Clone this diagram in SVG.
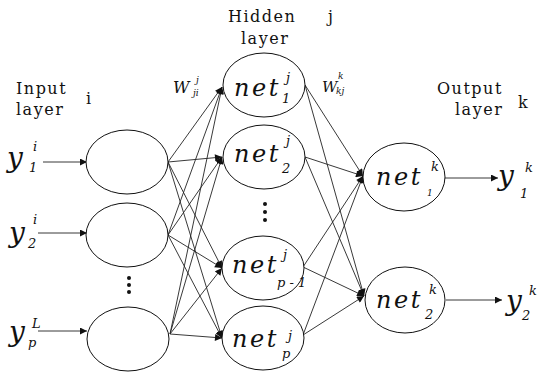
<svg xmlns="http://www.w3.org/2000/svg" width="539" height="374" viewBox="0 0 539 374" font-family="DejaVu Serif, serif">
<defs>
<style>
.node{fill:#fff;stroke:#111;stroke-width:1}
.c{stroke:#222;stroke-width:0.9;fill:none;marker-end:url(#ah)}
.lbl{font-size:16px;letter-spacing:1.5px;fill:#111}
.it{font-style:italic;fill:#111}
.net{font-size:24px;letter-spacing:2.5px}
.sup{font-size:13px}
.sm{font-size:9px}
.yv{font-size:28px}
.dot{fill:#111}
</style>
<marker id="ah" viewBox="0 0 10 10" refX="10" refY="5" markerWidth="9" markerHeight="7" markerUnits="userSpaceOnUse" orient="auto">
<path d="M0,0 L10,5 L0,10 z" fill="#111"/>
</marker>
</defs>
<rect width="539" height="374" fill="#fff"/>

<g id="labels">
<text class="lbl" x="16" y="94">Input</text>
<text class="lbl" x="16" y="115">layer</text>
<text class="lbl" x="86" y="104">i</text>
<text class="lbl" x="228" y="22">Hidden</text>
<text class="lbl" x="241" y="44">layer</text>
<text class="lbl" x="328" y="22">j</text>
<text class="lbl" x="437" y="94">Output</text>
<text class="lbl" x="455" y="115">layer</text>
<text class="lbl" x="518" y="108">k</text>
<text class="it" x="173" y="93" font-size="16">W</text>
<text class="it sm" x="196" y="83">j</text>
<text class="it sm" x="193" y="96">ji</text>
<text class="it" x="322" y="92" font-size="15">W</text>
<text class="it sm" x="338" y="79">k</text>
<text class="it sm" x="336" y="94">kj</text>
</g>

<g id="connectors">
<line class="c" x1="43" y1="162" x2="87" y2="162"/>
<line class="c" x1="38" y1="233" x2="87" y2="233"/>
<line class="c" x1="38" y1="331" x2="87" y2="331"/>

<line class="c" x1="168" y1="162" x2="222" y2="87"/>
<line class="c" x1="168" y1="162" x2="222" y2="157"/>
<line class="c" x1="168" y1="162" x2="222" y2="268"/>
<line class="c" x1="168" y1="162" x2="222" y2="338"/>
<line class="c" x1="168" y1="235" x2="222" y2="87"/>
<line class="c" x1="168" y1="235" x2="222" y2="157"/>
<line class="c" x1="168" y1="235" x2="222" y2="268"/>
<line class="c" x1="168" y1="235" x2="222" y2="338"/>
<line class="c" x1="170" y1="334" x2="222" y2="87"/>
<line class="c" x1="170" y1="334" x2="222" y2="157"/>
<line class="c" x1="170" y1="334" x2="222" y2="268"/>
<line class="c" x1="170" y1="334" x2="222" y2="338"/>

<line class="c" x1="305" y1="85" x2="363" y2="176"/>
<line class="c" x1="305" y1="85" x2="364" y2="296"/>
<line class="c" x1="305" y1="157" x2="363" y2="176"/>
<line class="c" x1="305" y1="157" x2="364" y2="296"/>
<line class="c" x1="303" y1="267" x2="363" y2="176"/>
<line class="c" x1="303" y1="267" x2="364" y2="296"/>
<line class="c" x1="303" y1="335" x2="363" y2="176"/>
<line class="c" x1="303" y1="335" x2="364" y2="296"/>

<line class="c" x1="445" y1="178" x2="498" y2="178"/>
<line class="c" x1="446" y1="300" x2="502" y2="300"/>
</g>

<g id="in1"><ellipse class="node" cx="127" cy="162" rx="41" ry="32"/></g>
<g id="in2"><ellipse class="node" cx="127" cy="235" rx="41" ry="32"/></g>
<g id="in3"><ellipse class="node" cx="128" cy="339" rx="41" ry="32"/></g>

<g id="in-dots"><circle class="dot" cx="129" cy="278" r="2"/><circle class="dot" cx="129" cy="285" r="2"/><circle class="dot" cx="129" cy="292" r="2"/></g>

<g id="h1"><ellipse class="node" cx="264" cy="85" rx="41" ry="32"/>
<text class="it net" x="234" y="96">net</text><text class="it sup" x="286" y="82">j</text><text class="it sup" x="282" y="103">1</text></g>
<g id="h2"><ellipse class="node" cx="264" cy="157" rx="41" ry="32"/>
<text class="it net" x="234" y="162">net</text><text class="it sup" x="286" y="145">j</text><text class="it sup" x="282" y="173">2</text></g>
<g id="h-dots"><circle class="dot" cx="265" cy="204" r="2"/><circle class="dot" cx="265" cy="212" r="2"/><circle class="dot" cx="265" cy="220" r="2"/></g>
<g id="h3"><ellipse class="node" cx="263" cy="268" rx="41" ry="32"/>
<text class="it net" x="232" y="273">net</text><text class="it sup" x="283" y="259">j</text><text class="it sup" x="277" y="287" font-size="11">p - 1</text></g>
<g id="h4"><ellipse class="node" cx="263" cy="338" rx="41" ry="32"/>
<text class="it net" x="232" y="347">net</text><text class="it sup" x="288" y="340">j</text><text class="it sup" x="282" y="358">p</text></g>

<g id="o1"><ellipse class="node" cx="404" cy="177" rx="41" ry="34"/>
<text class="it net" x="376" y="185">net</text><text class="it sup" x="431" y="171">k</text><text class="it sm" x="427" y="196">1</text></g>
<g id="o2"><ellipse class="node" cx="405" cy="300" rx="40" ry="33"/>
<text class="it net" x="376" y="308">net</text><text class="it sup" x="429" y="294">k</text><text class="it sup" x="425" y="319">2</text></g>

<g id="inputs">
<text class="it yv" x="7" y="167">y</text><text class="it sup" x="33" y="151">i</text><text class="it sup" x="29" y="172">1</text>
<text class="it yv" x="9" y="242">y</text><text class="it sup" x="33" y="224">i</text><text class="it sup" x="28" y="248">2</text>
<text class="it yv" x="9" y="341">y</text><text class="it sup" x="32" y="328">L</text><text class="it sup" x="28" y="347">p</text>
</g>
<g id="outputs">
<text class="it yv" x="498" y="185">y</text><text class="it sup" x="525" y="172">k</text><text class="it sup" x="520" y="198">1</text>
<text class="it yv" x="506" y="310">y</text><text class="it sup" x="529" y="295">k</text><text class="it sup" x="522" y="320">2</text>
</g>
</svg>
